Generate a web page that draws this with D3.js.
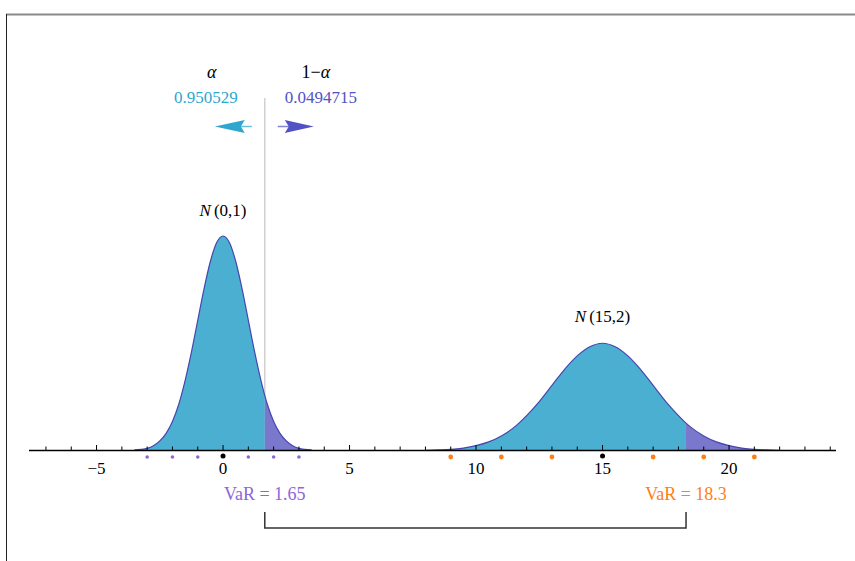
<!DOCTYPE html>
<html>
<head>
<meta charset="utf-8">
<script src="https://cdn.jsdelivr.net/npm/d3@7"></script>
<style>
  body { margin: 0; background: #fff; }
</style>
</head>
<body>
<div id="chart"></div>
<script>
// Chart data
var axisTicks = [-5, 0, 5, 10, 15, 20];

// N(0,1) density
var stdX = [-3.5, -3.25, -3, -2.75, -2.5, -2.25, -2, -1.75, -1.5, -1.25, -1, -0.75, -0.5, -0.25, 0,
  0.25, 0.5, 0.75, 1, 1.25, 1.5, 1.65, 1.75, 2, 2.25, 2.5, 2.75, 3, 3.25, 3.5];
var stdY = [0.001, 0.002, 0.004, 0.009, 0.018, 0.032, 0.054, 0.086, 0.130, 0.183, 0.242, 0.301, 0.352, 0.387, 0.399,
  0.387, 0.352, 0.301, 0.242, 0.183, 0.130, 0.102, 0.086, 0.054, 0.032, 0.018, 0.009, 0.004, 0.002, 0.001];

// N(15,2) density
var wideX = [8, 8.5, 9, 9.5, 10, 10.5, 11, 11.5, 12, 12.5, 13, 13.5, 14, 14.5, 15,
  15.5, 16, 16.5, 17, 17.5, 18, 18.3, 18.5, 19, 19.5, 20, 20.5, 21, 21.5, 22];
var wideY = [0.0005, 0.001, 0.002, 0.0045, 0.009, 0.016, 0.027, 0.043, 0.065, 0.091, 0.121, 0.151, 0.176, 0.193, 0.1995,
  0.193, 0.176, 0.151, 0.121, 0.091, 0.065, 0.051, 0.043, 0.027, 0.016, 0.009, 0.0045, 0.002, 0.001, 0.0005];

var curveLabels = ["N", "(0,1)", "N", "(15,2)"];
var curveMeans = [0, 15];
var varValues = [1.65, 18.3];
var varLabels = ["VaR = 1.65", "VaR = 18.3"];

// sigma marks under the axis
var stdDots = [-3, -2, -1, 1, 2, 3];
var wideDots = [9, 11, 13, 17, 19, 21];

var probLabels = ["\u03b1", "1\u2212\u03b1"];
var probValues = ["0.950529", "0.0494715"];

// colours
var fillMain = "#4bafd2";
var fillTail = "#7a78cc";
var lineCol = "#4646ad";
var cyanCol = "#2fa6cf";
var blueCol = "#5252c4";
var purpleCol = "#8c66d8";
var orangeCol = "#ff7f15";

var svgWidth = 855;
var svgHeight = 561;

var svg = d3.select("#chart")
  .append("svg")
  .attr("width", svgWidth)
  .attr("height", svgHeight)
  .attr("font-family", "'Liberation Serif', 'Times New Roman', serif");

// frame lines (top gray, left black)
svg.append("line")
  .attr("x1", 6).attr("x2", 855).attr("y1", 14.5).attr("y2", 14.5)
  .attr("stroke", "#8a8a8a").attr("stroke-width", 2);
svg.append("line")
  .attr("x1", 6.5).attr("x2", 6.5).attr("y1", 14).attr("y2", 561)
  .attr("stroke", "#222").attr("stroke-width", 1);

// scales
var xScale = d3.scaleLinear().domain([-7.67, 24.2]).range([29, 835.3]);
var baseY = 450.5;
var yScale = d3.scaleLinear().domain([0, 0.399]).range([baseY, 236]);

// density areas, split at VaR
function drawDensity(xs, ys, cut) {
  var pts = xs.map((x, i) => [x, ys[i]]);
  var area = d3.area()
    .x(d => xScale(d[0]))
    .y0(baseY)
    .y1(d => yScale(d[1]))
    .curve(d3.curveMonotoneX);
  var line = d3.line()
    .x(d => xScale(d[0]))
    .y(d => yScale(d[1]))
    .curve(d3.curveMonotoneX);

  svg.append("path")
    .attr("d", area(pts.filter(d => d[0] <= cut)))
    .attr("fill", fillMain);
  svg.append("path")
    .attr("d", area(pts.filter(d => d[0] >= cut)))
    .attr("fill", fillTail);
  svg.append("path")
    .attr("d", line(pts))
    .attr("fill", "none")
    .attr("stroke", lineCol)
    .attr("stroke-width", 1.2);
}

// vertical divider at first VaR
svg.append("line")
  .attr("x1", xScale(varValues[0])).attr("x2", xScale(varValues[0]))
  .attr("y1", 98).attr("y2", baseY)
  .attr("stroke", "#d0d0d0").attr("stroke-width", 1.5);

drawDensity(stdX, stdY, varValues[0]);
drawDensity(wideX, wideY, varValues[1]);

// x axis with minor ticks
var minorTicks = d3.range(-7, 25, 1);
svg.append("line")
  .attr("x1", 29).attr("x2", 836).attr("y1", baseY).attr("y2", baseY)
  .attr("stroke", "#000").attr("stroke-width", 1.3);
svg.append("g").selectAll("line")
  .data(minorTicks)
  .enter()
  .append("line")
  .attr("x1", d => xScale(d)).attr("x2", d => xScale(d))
  .attr("y1", baseY)
  .attr("y2", d => axisTicks.indexOf(d) >= 0 ? baseY - 5.5 : baseY - 4)
  .attr("stroke", "#000").attr("stroke-width", 1);

svg.append("g").selectAll("text")
  .data(axisTicks)
  .enter()
  .append("text")
  .attr("x", d => xScale(d))
  .attr("y", 474)
  .attr("text-anchor", "middle")
  .attr("font-size", "17px")
  .text(d => d < 0 ? "\u2212" + Math.abs(d) : d);

// sigma dots
svg.append("g").selectAll("circle")
  .data(stdDots)
  .enter()
  .append("circle")
  .attr("cx", d => xScale(d)).attr("cy", 457)
  .attr("r", 1.8).attr("fill", purpleCol);
svg.append("g").selectAll("circle")
  .data(wideDots)
  .enter()
  .append("circle")
  .attr("cx", d => xScale(d)).attr("cy", 457)
  .attr("r", 2.4).attr("fill", orangeCol);
svg.append("g").selectAll("circle")
  .data(curveMeans)
  .enter()
  .append("circle")
  .attr("cx", d => xScale(d)).attr("cy", 456)
  .attr("r", 2.5).attr("fill", "#000");

// distribution labels
var nameY = [yScale(0.399) - 20, yScale(0.1995) - 21];
curveMeans.forEach(function(m, i) {
  var t = svg.append("text")
    .attr("x", xScale(m))
    .attr("y", nameY[i])
    .attr("text-anchor", "middle")
    .attr("font-size", "17px");
  t.append("tspan").attr("font-style", "italic").text(curveLabels[i * 2]);
  t.append("tspan").attr("dx", 3).text(curveLabels[i * 2 + 1]);
});

// VaR labels
var varColors = [purpleCol, orangeCol];
svg.append("g").selectAll("text")
  .data(varValues)
  .enter()
  .append("text")
  .attr("x", d => xScale(d))
  .attr("y", 500)
  .attr("text-anchor", "middle")
  .attr("font-size", "18px")
  .attr("fill", (d, i) => varColors[i])
  .text((d, i) => varLabels[i]);

// bracket joining both VaR points
var bx1 = xScale(varValues[0]);
var bx2 = xScale(varValues[1]);
svg.append("path")
  .attr("d", `M${bx1},512 V528 H${bx2} V512`)
  .attr("fill", "none")
  .attr("stroke", "#333")
  .attr("stroke-width", 1.5);

// alpha labels and arrows
var cx = xScale(varValues[0]);
svg.append("text")
  .attr("x", cx - 53).attr("y", 78)
  .attr("text-anchor", "middle").attr("font-size", "18px")
  .attr("font-style", "italic")
  .text(probLabels[0]);
svg.append("text")
  .attr("x", cx + 51).attr("y", 78)
  .attr("text-anchor", "middle").attr("font-size", "18px")
  .text("1\u2212").append("tspan").attr("font-style", "italic").text("\u03b1");
svg.append("text")
  .attr("x", cx - 59).attr("y", 103)
  .attr("text-anchor", "middle").attr("font-size", "17px")
  .attr("fill", cyanCol)
  .text(probValues[0]);
svg.append("text")
  .attr("x", cx + 56).attr("y", 103)
  .attr("text-anchor", "middle").attr("font-size", "17px")
  .attr("fill", blueCol)
  .text(probValues[1]);

var arrowY = 126.5;
// left arrow
svg.append("line")
  .attr("x1", cx - 13).attr("x2", cx - 30).attr("y1", arrowY).attr("y2", arrowY)
  .attr("stroke", cyanCol).attr("stroke-width", 1.5).attr("opacity", 0.7);
svg.append("path")
  .attr("d", `M${cx - 50},${arrowY} L${cx - 20},${arrowY - 6.5} L${cx - 24},${arrowY} L${cx - 20},${arrowY + 6.5} Z`)
  .attr("fill", cyanCol);
// right arrow
svg.append("line")
  .attr("x1", cx + 13).attr("x2", cx + 30).attr("y1", arrowY).attr("y2", arrowY)
  .attr("stroke", blueCol).attr("stroke-width", 1.5).attr("opacity", 0.7);
svg.append("path")
  .attr("d", `M${cx + 49},${arrowY} L${cx + 20},${arrowY - 6.5} L${cx + 24},${arrowY} L${cx + 20},${arrowY + 6.5} Z`)
  .attr("fill", blueCol);
</script>
</body>
</html>
